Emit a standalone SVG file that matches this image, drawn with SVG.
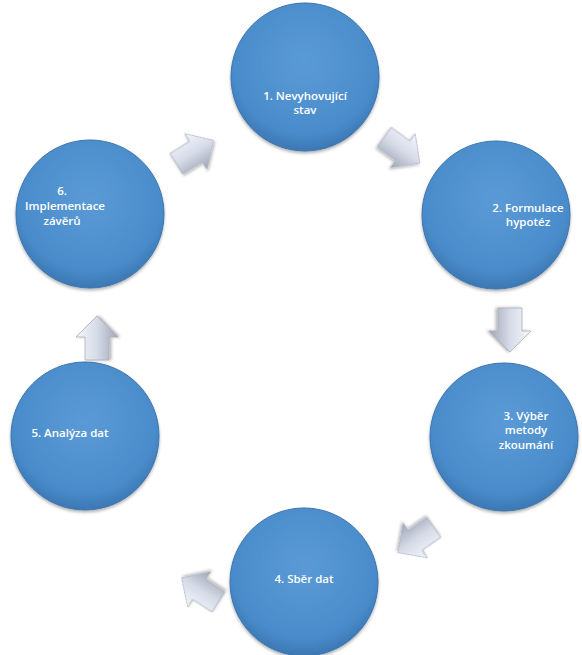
<svg xmlns="http://www.w3.org/2000/svg" width="582" height="655" viewBox="0 0 582 655">
<defs>
<radialGradient id="cg" cx="50%" cy="40%" r="60%">
<stop offset="0" stop-color="#5a9ad6"/>
<stop offset="0.8" stop-color="#4a8ccb"/>
<stop offset="1" stop-color="#3b77b3"/>
</radialGradient>
<linearGradient id="ag" x1="0" y1="0" x2="0" y2="1">
<stop offset="0" stop-color="#f4f6fb"/>
<stop offset="0.5" stop-color="#d6dbe8"/>
<stop offset="1" stop-color="#9fa6b5"/>
</linearGradient>
<filter id="sh" x="-20%" y="-20%" width="140%" height="140%">
<feGaussianBlur in="SourceAlpha" stdDeviation="1.5"/>
<feOffset dx="0" dy="1.5" result="b"/>
<feFlood flood-color="#000" flood-opacity="0.3"/>
<feComposite in2="b" operator="in"/>
<feMerge><feMergeNode/><feMergeNode in="SourceGraphic"/></feMerge>
</filter>
<path id="arr" d="M-22,-12 L1,-12 L1,-21 L22,0 L1,21 L1,12 L-22,12 Z"/>
</defs>
<style>
.c{fill:url(#cg);stroke:#3a74ad;stroke-width:1;filter:url(#sh)}
.t{font-family:"Open Sans","Liberation Sans",sans-serif;font-size:11.5px;font-weight:600;fill:#ffffff;text-anchor:middle}
.a{fill:url(#ag);stroke:#a8aebb;stroke-width:0.8;filter:url(#sh)}
</style>
<g id="connectors">
<use href="#arr" class="a" transform="translate(402,150) rotate(36)"/>
<use href="#arr" class="a" transform="translate(510,330) rotate(90)"/>
<use href="#arr" class="a" transform="translate(416,540) rotate(145)"/>
<use href="#arr" class="a" transform="translate(200,590) rotate(213)"/>
<use href="#arr" class="a" transform="translate(97,338) rotate(-90)"/>
<use href="#arr" class="a" transform="translate(195,152) rotate(-32)"/>
</g>
<g id="n1"><circle class="c" cx="305" cy="77" r="74"/><text class="t" x="305" y="100">1. Nevyhovující</text><text class="t" x="305" y="114">stav</text></g>
<g id="n2"><circle class="c" cx="496" cy="215" r="74"/><text class="t" x="528" y="212">2. Formulace</text><text class="t" x="528" y="226">hypotéz</text></g>
<g id="n3"><circle class="c" cx="504" cy="437" r="74"/><text class="t" x="526" y="420">3. Výběr</text><text class="t" x="526" y="434">metody</text><text class="t" x="526" y="449">zkoumání</text></g>
<g id="n4"><circle class="c" cx="304" cy="582" r="74"/><text class="t" x="304" y="583">4. Sběr  dat</text></g>
<g id="n5"><circle class="c" cx="85" cy="436" r="74"/><text class="t" x="70" y="437">5. Analýza dat</text></g>
<g id="n6"><circle class="c" cx="90" cy="214" r="74"/><text class="t" x="62" y="195">6.</text><text class="t" x="65" y="210">Implementace</text><text class="t" x="62" y="225">závěrů</text></g>
</svg>
